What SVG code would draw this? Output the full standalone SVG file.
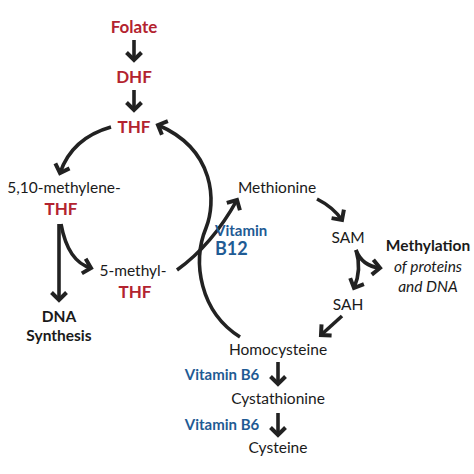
<svg xmlns="http://www.w3.org/2000/svg" width="474" height="474" viewBox="0 0 474 474">
<style>
text{font-family:Lato,"Open Sans","DejaVu Sans",sans-serif;text-anchor:middle;}
.r{fill:#b3232f;font-weight:bold;font-size:17px;}
.k{fill:#1a1a1a;font-size:15.5px;}
.kb{fill:#1a1a1a;font-size:15.5px;font-weight:bold;}
.ki{fill:#1a1a1a;font-size:15.5px;font-style:italic;}
.b{fill:#1f5b94;font-weight:bold;font-size:15px;}
.c{fill:none;stroke:#222;stroke-width:3.6;marker-end:url(#ah);}
</style>
<defs>
<marker id="ah" markerUnits="userSpaceOnUse" markerWidth="20" markerHeight="20" viewBox="-10 -10 20 20" refX="0" refY="0" orient="auto">
<path d="M-7.5,-7.5 L0,0 L-7.5,7.5" fill="none" stroke="#222" stroke-width="4" stroke-linejoin="miter"/>
</marker>
</defs>
<rect width="474" height="474" fill="#fff"/>
<g id="connectors">
<path class="c" d="M134,40 L134,60"/>
<path class="c" d="M134,90 L134,110"/>
<path class="c" d="M111,127 Q72,138 60,173"/>
<path class="c" d="M59,224 L59,300"/>
<path class="c" d="M61,224 Q68,262 91,268"/>
<path class="c" d="M177,270 Q212,245 237,200"/>
<path class="c" d="M240,337 C200,312 192,262 206,228 C216,203 216,150 158,125"/>
<path class="c" d="M317,199 Q333,207 342,220"/>
<path class="c" d="M356,250 Q362,266 380,268"/>
<path class="c" d="M356,250 Q362,270 354,288"/>
<path class="c" d="M342,316 L321,335"/>
<path class="c" d="M278,362 L278,384"/>
<path class="c" d="M278,413 L278,435"/>
</g>
<g id="folate"><text class="r" x="134" y="33">Folate</text></g>
<g id="dhf"><text class="r" x="134" y="83">DHF</text></g>
<g id="thf"><text class="r" x="134" y="133">THF</text></g>
<g id="methylene-thf"><text class="k" x="64" y="193">5,10-methylene-</text><text class="r" x="61" y="215">THF</text></g>
<g id="dna-synthesis"><text class="kb" x="59" y="322">DNA</text><text class="kb" x="59" y="341">Synthesis</text></g>
<g id="methyl-thf"><text class="k" x="133" y="276">5-methyl-</text><text class="r" x="135" y="298">THF</text></g>
<g id="methionine"><text class="k" x="277" y="193">Methionine</text></g>
<g id="sam"><text class="k" x="348" y="243">SAM</text></g>
<g id="sah"><text class="k" x="348" y="310">SAH</text></g>
<g id="methylation"><text class="kb" x="428" y="251">Methylation</text><text class="ki" x="428" y="272">of proteins</text><text class="ki" x="428" y="292">and DNA</text></g>
<g id="b12"><text class="b" x="215" y="236" style="text-anchor:start">Vitamin</text><text class="b" x="215" y="255" style="text-anchor:start;font-size:18px">B12</text></g>
<g id="homocysteine"><text class="k" x="278" y="355">Homocysteine</text></g>
<g id="b6a"><text class="b" x="222" y="380">Vitamin B6</text></g>
<g id="cystathionine"><text class="k" x="278" y="404">Cystathionine</text></g>
<g id="b6b"><text class="b" x="222" y="430">Vitamin B6</text></g>
<g id="cysteine"><text class="k" x="278" y="453">Cysteine</text></g>
</svg>
